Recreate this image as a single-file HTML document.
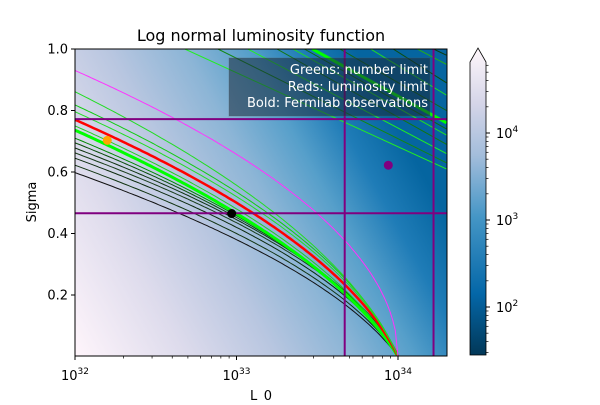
<!DOCTYPE html>
<html><head><meta charset="utf-8"><style>
body{margin:0;background:#fff;width:600px;height:400px;overflow:hidden;font-family:"Liberation Sans","DejaVu Sans",sans-serif;}
svg text{font-family:"DejaVu Sans","Liberation Sans",sans-serif;}
</style></head><body>
<svg id="chart" width="600" height="400" viewBox="0 0 600 400" xmlns="http://www.w3.org/2000/svg">
<defs>
<linearGradient id="bg" x1="0" y1="1" x2="1" y2="0.55">
<stop offset="0" stop-color="#fff5fb"/><stop offset="0.25" stop-color="#dddbec"/><stop offset="0.45" stop-color="#b8c6e0"/><stop offset="0.62" stop-color="#8cb5d6"/><stop offset="0.76" stop-color="#569fca"/><stop offset="0.88" stop-color="#1f7cb7"/><stop offset="1" stop-color="#0565a0"/>
</linearGradient>
<linearGradient id="cb" x1="0" y1="1" x2="0" y2="0">
<stop offset="0" stop-color="#023858"/><stop offset="0.2" stop-color="#0467a8"/><stop offset="0.45" stop-color="#4596c6"/><stop offset="0.65" stop-color="#a3bddb"/><stop offset="0.82" stop-color="#d5d5e8"/><stop offset="1" stop-color="#fff7fb"/>
</linearGradient>
<clipPath id="clip"><rect x="75" y="49" width="372" height="307"/></clipPath>
</defs>
<text x="261" y="41" font-size="16" text-anchor="middle">Log normal luminosity function</text>
<rect x="75" y="49" width="372" height="307" fill="url(#bg)"/>
<g id="marks" clip-path="url(#clip)"></g>
<g id="legend">
<rect x="229" y="58" width="201" height="58" fill="#1a2a3a" fill-opacity="0.55" stroke="#555" stroke-opacity="0.3"/>
<text x="428" y="74" font-size="13" fill="#fff" text-anchor="end">Greens: number limit</text>
<text x="428" y="91" font-size="13" fill="#fff" text-anchor="end">Reds: luminosity limit</text>
<text x="428" y="107" font-size="13" fill="#fff" text-anchor="end">Bold: Fermilab observations</text>
</g>
<rect x="75" y="49" width="372" height="307" fill="none" stroke="#000" stroke-width="1"/>
<g id="axes"></g>
<text x="36" y="202" font-size="13" text-anchor="middle" transform="rotate(-90 36 202)">Sigma</text>
<text x="261" y="400" font-size="13" text-anchor="middle">L_0</text>
<g>
<path d="M470,355 L470,62 L478,48 L486,62 L486,355 Z" fill="url(#cb)" stroke="#000" stroke-width="0.8"/>
</g>
<g id="cbticks"></g>
</svg>
<script>
const xTicks=[32,33,34];
const yTicks=[0.2,0.4,0.6,0.8,1.0];
const yTickLabels=["0.2","0.4","0.6","0.8","1.0"];
// lower family: sigma at L0=1e32, sigma at L0=1e33 (all end at L0=1e34, sigma=0)
const lowSigma=[0.598,0.622,0.645,0.662,0.678,0.695,0.71,0.736,0.75,0.77,0.796,0.818,0.861,0.93];
const lowSigmaMid=[0.38,0.40,0.42,0.435,0.445,0.452,0.458,0.465,0.48,0.50,0.52,0.535,0.557,0.658];
const lowColor=["#111","#113311","#0d2a0d","#1a3d1a","#0f330f","#0a4d0a","#008800","#00ff00","#22cc22","#ff0000","#22dd22","#11cc11","#22dd22","#ff33ff"];
const lowWidth=[1,1,1,1,1,1,1,3,1,2.5,1,1,1,1];
// upper family: log10 L0 where line crosses sigma=1, sigma at right edge
const upStart=[32.68,32.885,33.07,33.25,33.35,33.42,33.47,33.64,33.83,33.97,34.12,34.22];
const upEnd=[0.61,0.63,0.66,0.69,0.72,0.74,0.76,0.80,0.85,0.89,0.95,0.98];
const upColor=["#22ee22","#118811","#22ee22","#117711","#22dd22","#0d6d0d","#00ff00","#116611","#22dd22","#0d4d0d","#22aa22","#0d3d0d"];
const upWidth=[1,1,1,1,1,1,3,1,1,1,1,1];
const vLines=[33.67,34.22];
const hLines=[0.772,0.466];
const ptsX=[32.2,32.97,33.94];
const ptsY=[0.703,0.465,0.622];
const ptsC=["orange","black","purple"];
const cbTicks=[4,3,2];
const cbTickY=[133,220,307];

const NS="http://www.w3.org/2000/svg";
const X=l=>75+(l-32)*161.5;
const Y=s=>356.5-s*307.5;
const marks=document.getElementById('marks'),axes=document.getElementById('axes'),cbt=document.getElementById('cbticks');
function mk(tag,at,parent){const e=document.createElementNS(NS,tag);for(const k in at)e.setAttribute(k,at[k]);parent.appendChild(e);return e;}
const LN10=Math.log(10);
for(let i=0;i<lowSigma.length;i++){
  // model: ln(1e34/L0) = a*sigma + b*sigma^2, fitted through the two read points
  const s1=lowSigma[i],s2=lowSigmaMid[i],y1=2*LN10,y2=LN10;
  let b=(y1*s2-y2*s1)/(s1*s1*s2-s2*s2*s1);
  let a=(y2-b*s2*s2)/s2;
  if(a<0){a=0;b=y1/(s1*s1);}
  let d="";
  for(let k=0;k<=120;k++){const l=32+2*k/120;const y=(34-l)*LN10;
    const s=b>1e-9?(-a+Math.sqrt(a*a+4*b*y))/(2*b):y/a;
    d+=(d?"L":"M")+X(l).toFixed(1)+","+Y(s).toFixed(1);}
  const p=mk('path',{d:d,fill:"none",stroke:lowColor[i],"stroke-width":lowWidth[i]},marks);
  
  
}
for(let i=0;i<upStart.length;i++){
  const p=mk('line',{x1:X(upStart[i]),y1:Y(1),x2:X(34.3),y2:Y(upEnd[i]),stroke:upColor[i],"stroke-width":upWidth[i]},marks);
  
  
}
vLines.forEach((v,i)=>{const e=mk('line',{x1:X(v),x2:X(v),y1:49,y2:356,stroke:"#800080","stroke-width":2},marks);
  
  });
hLines.forEach((v,i)=>{const e=mk('line',{x1:75,x2:447,y1:Y(v),y2:Y(v),stroke:"#800080","stroke-width":2},marks);
  
  });
ptsX.forEach((v,i)=>{const e=mk('circle',{cx:X(v),cy:Y(ptsY[i]),r:4.5,fill:ptsC[i]},marks);
  
  });
xTicks.forEach(t=>{mk('line',{x1:X(t),x2:X(t),y1:356,y2:360,stroke:"#000"},axes);
  const tx=mk('text',{x:X(t),y:380,"font-size":13,"text-anchor":"middle"},axes);
  
  
  tx.innerHTML='10<tspan dy="-6" font-size="9">'+t+'</tspan>';
  for(let m=2;m<10;m++){const l=t+Math.log10(m);if(l<=34.3)mk('line',{x1:X(l),x2:X(l),y1:356,y2:358.5,stroke:"#000","stroke-width":0.7},axes);}
});
yTicks.forEach((t,i)=>{mk('line',{x1:71,x2:75,y1:Y(t),y2:Y(t),stroke:"#000"},axes);
  const tx=mk('text',{x:68,y:Y(t)+4.5,"font-size":13,"text-anchor":"end"},axes);
  tx.textContent=yTickLabels[i];
  
  });
cbTicks.forEach((t,i)=>{const y=cbTickY[i];mk('line',{x1:486,x2:490,y1:y,y2:y,stroke:"#000"},cbt);
  const tx=mk('text',{x:496,y:y+5,"font-size":13},cbt);
  tx.innerHTML='10<tspan dy="-6" font-size="9">'+t+'</tspan>';
  
  
  const dec=87;for(let m=2;m<10;m++){const yy=y-Math.log10(m)*dec;if(yy>62)mk('line',{x1:486,x2:488.5,y1:yy,y2:yy,stroke:"#000","stroke-width":0.7},cbt);}
  if(t===2){for(let m=3;m<10;m++){const yy=y+dec-Math.log10(m)*dec;if(yy<355)mk('line',{x1:486,x2:488.5,y1:yy,y2:yy,stroke:"#000","stroke-width":0.7},cbt);}}
});
</script>
</body></html>
